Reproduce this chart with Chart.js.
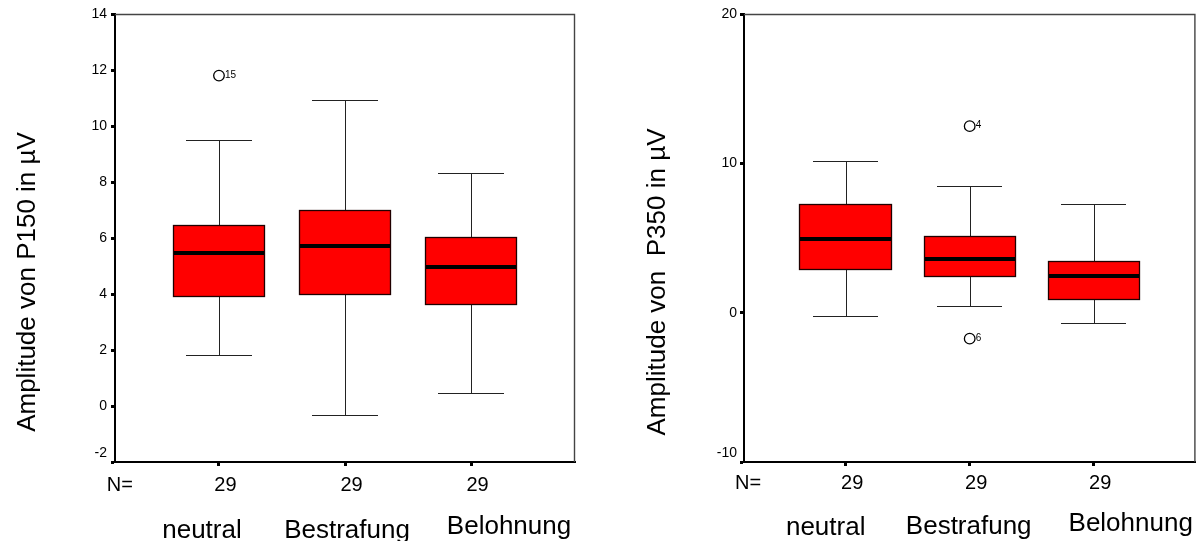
<!DOCTYPE html>
<html><head><meta charset="utf-8">
<script src="https://cdn.jsdelivr.net/npm/chart.js@4/dist/chart.umd.min.js"></script>
<style>
html,body{margin:0;padding:0;background:#fff;width:1202px;height:541px;overflow:hidden}
canvas{position:absolute;top:0}
#c1{left:0}
#c2{left:600px}
</style></head><body>
<canvas id="c1" width="600" height="541"></canvas>
<canvas id="c2" width="602" height="541"></canvas>
<script>
// ---- data ----
const categories = ['neutral', 'Bestrafung', 'Belohnung'];
const nCounts = [29, 29, 29];

const p150Low    = [1.83, -0.32, 0.47];
const p150Q1     = [3.88, 3.98, 3.62];
const p150Median = [5.45, 5.70, 4.95];
const p150Q3     = [6.45, 6.99, 6.05];
const p150High   = [9.49, 10.92, 8.31];
const p150OutlierCategory = [0];
const p150OutlierValue    = [11.8];
const p150OutlierCase     = ['15'];
const p150Ticks = [-2, 0, 2, 4, 6, 8, 10, 12, 14];

const p350Low    = [-0.24, 0.43, -0.71];
const p350Q1     = [2.84, 2.37, 0.83];
const p350Median = [4.92, 3.60, 2.44];
const p350Q3     = [7.27, 5.12, 3.45];
const p350High   = [10.17, 8.50, 7.27];
const p350OutlierCategory = [1, 1];
const p350OutlierValue    = [12.49, -1.74];
const p350OutlierCase     = ['4', '6'];
const p350Ticks = [-10, 0, 10, 20];

const FONT = "'Liberation Sans', Arial, Helvetica, sans-serif";

function makePanel(canvasId, spec) {
  const boxPlugin = {
    id: 'boxes',
    beforeDatasetsDraw(chart) {
      const xs = chart.scales.x, ys = chart.scales.y, ctx = chart.ctx;
      const r = v => Math.round(v) + 0.5;
      ctx.save();
      for (let i = 0; i < spec.median.length; i++) {
        const c = i + 1;
        const cx = r(xs.getPixelForValue(c));
        const bl = Math.round(xs.getPixelForValue(c - spec.boxWidth / 2));
        const br = Math.round(xs.getPixelForValue(c + spec.boxWidth / 2));
        const cl = Math.round(xs.getPixelForValue(c - spec.capWidth / 2));
        const cr = Math.round(xs.getPixelForValue(c + spec.capWidth / 2));
        const yLow = r(ys.getPixelForValue(spec.low[i]));
        const yHigh = r(ys.getPixelForValue(spec.high[i]));
        const yQ1 = Math.round(ys.getPixelForValue(spec.q1[i]));
        const yQ3 = Math.round(ys.getPixelForValue(spec.q3[i]));
        const yMed = ys.getPixelForValue(spec.median[i]);
        ctx.strokeStyle = '#222';
        ctx.lineWidth = 1;
        ctx.beginPath();
        ctx.moveTo(cx, yQ3); ctx.lineTo(cx, yHigh);
        ctx.moveTo(cl, yHigh); ctx.lineTo(cr, yHigh);
        ctx.moveTo(cx, yQ1); ctx.lineTo(cx, yLow);
        ctx.moveTo(cl, yLow); ctx.lineTo(cr, yLow);
        ctx.stroke();
        ctx.fillStyle = '#ff0000';
        ctx.fillRect(bl, yQ3, br - bl, yQ1 - yQ3);
        ctx.strokeStyle = '#200000';
        ctx.lineWidth = 1.3;
        ctx.strokeRect(bl + 0.5, yQ3 + 0.5, br - bl - 1, yQ1 - yQ3 - 1);
        ctx.fillStyle = '#000';
        ctx.fillRect(bl + 1, Math.round(yMed - 2), br - bl - 2, 4);
      }
      ctx.restore();
    },
    afterDatasetsDraw(chart) {
      const xs = chart.scales.x, ys = chart.scales.y, ctx = chart.ctx;
      ctx.save();
      ctx.fillStyle = '#000';
      ctx.font = '10px ' + FONT;
      ctx.textAlign = 'left';
      ctx.textBaseline = 'middle';
      spec.outCat.forEach((c, k) => {
        const px = xs.getPixelForValue(c + 1), py = ys.getPixelForValue(spec.outVal[k]);
        ctx.fillText(spec.outCase[k], px + 6, py - 0.5);
      });
      ctx.restore();
    },
    afterDraw(chart) {
      const a = chart.chartArea, ctx = chart.ctx, xs = chart.scales.x;
      ctx.save();
      // top / right frame
      ctx.strokeStyle = '#444';
      ctx.lineWidth = 1.4;
      ctx.beginPath();
      ctx.moveTo(a.left, a.top + 0.5);
      ctx.lineTo(a.right - 0.5, a.top + 0.5);
      ctx.lineTo(a.right - 0.5, a.bottom);
      ctx.stroke();
      // y axis title
      ctx.fillStyle = '#000';
      ctx.save();
      ctx.translate(spec.titleX, spec.titleY);
      ctx.rotate(-Math.PI / 2);
      ctx.font = '26px ' + FONT;
      ctx.textAlign = 'center';
      ctx.textBaseline = 'alphabetic';
      ctx.fillText(spec.title, 0, 0);
      ctx.restore();
      // N= row
      ctx.font = '20px ' + FONT;
      ctx.textBaseline = 'alphabetic';
      ctx.textAlign = 'left';
      ctx.fillText('N=', spec.nX, spec.countBaseline);
      ctx.textAlign = 'center';
      nCounts.forEach((n, i) => {
        ctx.fillText(String(n), xs.getPixelForValue(i + 1) + 6.5, spec.countBaseline);
      });
      // category labels
      ctx.font = '26px ' + FONT;
      categories.forEach((name, i) => {
        ctx.fillText(name, xs.getPixelForValue(i + 1) + spec.catNudge[i], spec.catBaseline[i]);
      });
      ctx.restore();
    }
  };

  const tickValues = spec.ticks;
  const yMin = tickValues[0], yMax = tickValues[tickValues.length - 1];

  return new Chart(document.getElementById(canvasId), {
    type: 'scatter',
    data: {
      datasets: [{
        data: spec.outCat.map((c, k) => ({ x: c + 1, y: spec.outVal[k] })),
        pointStyle: 'circle',
        pointRadius: 5.3,
        pointBorderWidth: 1.3,
        pointBorderColor: '#000',
        pointBackgroundColor: '#fff',
        showLine: false
      }]
    },
    options: {
      responsive: false,
      animation: false,
      events: [],
      layout: { padding: { left: 0, top: 14, right: spec.padRight, bottom: 0 } },
      plugins: { legend: { display: false }, tooltip: { enabled: false } },
      scales: {
        x: {
          type: 'linear',
          min: spec.xMin, max: spec.xMax,
          afterBuildTicks: s => { s.ticks = categories.map((_, i) => ({ value: i + 1 })); },
          afterFit: s => { s.height = 79; },
          ticks: { callback: () => '', autoSkip: false, maxRotation: 0 },
          grid: { drawOnChartArea: false, drawTicks: true, tickLength: 4, tickWidth: 3, tickColor: '#000' },
          border: { display: true, color: '#000', width: 2 }
        },
        y: {
          type: 'linear',
          min: yMin, max: yMax,
          afterBuildTicks: s => { s.ticks = tickValues.map(v => ({ value: v })); },
          afterFit: s => { s.width = spec.yWidth; },
          ticks: {
            color: '#000',
            padding: spec.tickPad,
            font: { family: FONT, size: 14, lineHeight: 1.2 },
            callback: v => (v === yMin ? [String(v), ''] : String(v))
          },
          grid: { drawOnChartArea: false, drawTicks: true, tickLength: 4, tickWidth: 3, tickColor: '#000' },
          border: { display: true, color: '#000', width: 2 }
        }
      }
    },
    plugins: [boxPlugin]
  });
}

makePanel('c1', {
  low: p150Low, q1: p150Q1, median: p150Median, q3: p150Q3, high: p150High,
  outCat: p150OutlierCategory, outVal: p150OutlierValue, outCase: p150OutlierCase,
  ticks: p150Ticks,
  title: 'Amplitude von P150 in µV',
  xMin: 0.175, xMax: 3.825,
  boxWidth: 0.735, capWidth: 0.52,
  yWidth: 115, padRight: 25, tickPad: 4,
  titleX: 34.5, titleY: 282,
  nX: 106.7, countBaseline: 490.5,
  catNudge: [-17, 2, 38], catBaseline: [538, 538, 534]
});

makePanel('c2', {
  low: p350Low, q1: p350Q1, median: p350Median, q3: p350Q3, high: p350High,
  outCat: p350OutlierCategory, outVal: p350OutlierValue, outCase: p350OutlierCase,
  ticks: p350Ticks,
  title: 'Amplitude von  P350 in µV',
  xMin: 0.18, xMax: 3.82,
  boxWidth: 0.745, capWidth: 0.52,
  yWidth: 144, padRight: 6, tickPad: 3,
  titleX: 64.5, titleY: 282,
  nX: 135, countBaseline: 489,
  catNudge: [-20, -1, 37], catBaseline: [535, 534, 531]
});
</script>
</body></html>
